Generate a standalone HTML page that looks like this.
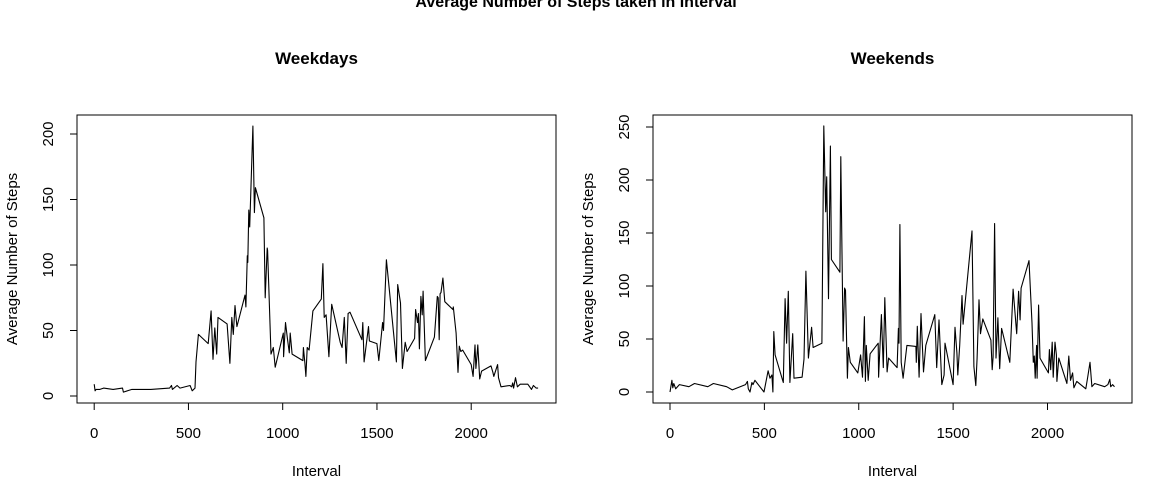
<!DOCTYPE html>
<html><head><meta charset="utf-8"><style>
html,body{margin:0;padding:0;background:#fff;}
svg{display:block;font-family:"Liberation Sans",Arial,sans-serif;}
</style></head><body>
<svg id="chart" width="1152" height="480" viewBox="0 0 1152 480">
<text x="576" y="7" text-anchor="middle" font-size="16" font-weight="bold">Average Number of Steps taken in Interval</text>
</svg>
<script>
const wdIntervals=[0,5,10,30,50,100,150,155,200,300,400,410,415,440,455,509,520,535,540,553,605,620,630,640,650,657,705,720,730,738,747,757,800,805,812,815,820,825,842,850,855,900,907,918,920,938,950,960,1003,1005,1015,1025,1035,1040,1050,1107,1110,1118,1123,1130,1140,1160,1205,1213,1220,1230,1245,1260,1305,1315,1327,1337,1347,1357,1420,1425,1432,1455,1460,1500,1510,1530,1535,1550,1603,1610,1625,1635,1650,1660,1700,1705,1715,1720,1725,1733,1740,1745,1757,1805,1820,1825,1830,1835,1840,1850,1860,1903,1905,1920,1930,1937,1945,1955,2000,2010,2020,2025,2030,2035,2045,2055,2105,2115,2120,2140,2145,2158,2205,2215,2220,2225,2235,2245,2260,2300,2320,2330,2345,2355];
const wdSteps=[9,4,5,5,6,5,6,3,5,5,6,8,5,8,6,8,4,6,26,47,40,65,28,52,32,60,55,25,60,47,69,53,77,68,107,102,142,129,206,140,159,136,75,113,111,32,37,22,48,30,56,44,33,48,32,27,37,25,15,37,35,65,74,101,60,62,30,70,41,37,60,25,63,64,43,56,26,53,42,40,27,56,50,104,26,85,71,21,41,34,44,66,56,63,36,76,62,80,27,45,76,75,43,78,79,90,72,66,68,48,18,38,34,35,24,15,39,21,30,39,13,19,23,18,15,24,14,7,8,7,10,6,14,7,9,9,5,8,6,6];
const weIntervals=[0,10,15,20,30,50,100,130,200,230,300,330,400,410,415,424,434,440,450,498,520,530,540,545,550,557,600,610,618,627,635,650,657,700,710,720,733,750,758,805,815,825,830,840,850,855,900,905,917,925,930,940,945,955,995,1010,1020,1030,1035,1040,1050,1060,1103,1105,1120,1130,1138,1150,1158,1203,1210,1213,1218,1225,1235,1255,1303,1305,1310,1320,1330,1343,1355,1403,1413,1425,1440,1452,1457,1500,1510,1520,1525,1535,1547,1553,1600,1610,1620,1627,1637,1645,1657,1700,1707,1712,1720,1727,1737,1747,1757,1800,1818,1837,1847,1855,1860,1902,1918,1925,1930,1935,1942,1945,1953,1960,2005,2010,2017,2025,2030,2040,2047,2050,2060,2103,2113,2122,2133,2140,2155,2203,2213,2225,2235,2250,2303,2320,2330,2335,2345,2355];
const weSteps=[0,11,4,8,3,7,5,8,5,8,5,2,7,10,3,0,9,7,11,0,20,13,16,0,57,35,9,88,46,95,9,55,13,14,31,114,32,61,42,46,251,170,203,88,232,125,113,222,48,98,96,13,42,28,18,35,14,71,10,44,11,36,46,14,73,23,89,19,32,23,60,46,158,28,13,44,43,28,62,14,74,19,44,73,23,68,7,16,46,7,61,37,16,44,91,64,152,24,6,32,87,55,69,49,21,33,159,32,70,22,60,28,97,55,95,68,98,124,65,28,34,13,44,13,82,32,18,40,21,47,14,47,35,10,32,8,34,11,18,4,10,3,14,28,5,8,5,7,12,5,7,5];
const xTicks=[0,500,1000,1500,2000];
const wdYTicks=[0,50,100,150,200];
const weYTicks=[0,50,100,150,200,250];

const svg=document.getElementById('chart');
const NS='http://www.w3.org/2000/svg';
function mk(tag,attrs,parent){const e=document.createElementNS(NS,tag);for(const k in attrs)e.setAttribute(k,attrs[k]);(parent||svg).appendChild(e);return e;}

function panel(key,title,box,x0,xScale,y0,yScale,xs,ys,yTicks){
  const g=mk('g',{});
  
  
  const sx=v=>x0+v*xScale, sy=v=>y0-v*yScale;
  const cx=(box[0]+box[2])/2;
  const t=mk('text',{x:cx,y:64,'text-anchor':'middle','font-size':17,'font-weight':'bold'},g);t.textContent=title;
  
  
  const r=mk('rect',{x:box[0],y:box[1],width:box[2]-box[0],height:box[3]-box[1],fill:'none',stroke:'#000','stroke-width':1},g);
  
  
  const xa=mk('g',{},g);
  
  
  mk('line',{x1:sx(xTicks[0]),x2:sx(xTicks[xTicks.length-1]),y1:box[3],y2:box[3],stroke:'#000'},xa);
  xTicks.forEach(v=>{
    mk('line',{x1:sx(v),x2:sx(v),y1:box[3],y2:box[3]+7,stroke:'#000'},xa);
    const tl=mk('text',{x:sx(v),y:438,'text-anchor':'middle','font-size':15},xa);tl.textContent=v;
    
    
  });
  const ya=mk('g',{},g);
  
  
  mk('line',{x1:box[0],x2:box[0],y1:sy(yTicks[0]),y2:sy(yTicks[yTicks.length-1]),stroke:'#000'},ya);
  yTicks.forEach(v=>{
    mk('line',{x1:box[0]-7,x2:box[0],y1:sy(v),y2:sy(v),stroke:'#000'},ya);
    const tx=box[0]-24;
    const tl=mk('text',{x:tx,y:sy(v),'text-anchor':'middle','font-size':15,transform:`rotate(-90 ${tx} ${sy(v)})`},ya);tl.textContent=v;
    
    
  });
  const xl=mk('text',{x:cx,y:476,'text-anchor':'middle','font-size':15},g);xl.textContent='Interval';
  
  
  const lx=box[0]-60,ly=(box[1]+box[3])/2;
  const yl=mk('text',{x:lx,y:ly,'text-anchor':'middle','font-size':15,transform:`rotate(-90 ${lx} ${ly})`},g);yl.textContent='Average Number of Steps';
  
  
  const pts=xs.map((v,i)=>sx(v).toFixed(1)+','+sy(ys[i]).toFixed(1)).join(' ');
  const pl=mk('polyline',{points:pts,fill:'none',stroke:'#000','stroke-width':1.1,'stroke-linejoin':'round'},g);
  
  
}
panel('weekdays','Weekdays',[77,115,556,403],94.2,0.1885,396,1.31,wdIntervals,wdSteps,wdYTicks);
panel('weekends','Weekends',[653,115,1132,403],670,0.18875,392,1.06,weIntervals,weSteps,weYTicks);
</script>
</body></html>
